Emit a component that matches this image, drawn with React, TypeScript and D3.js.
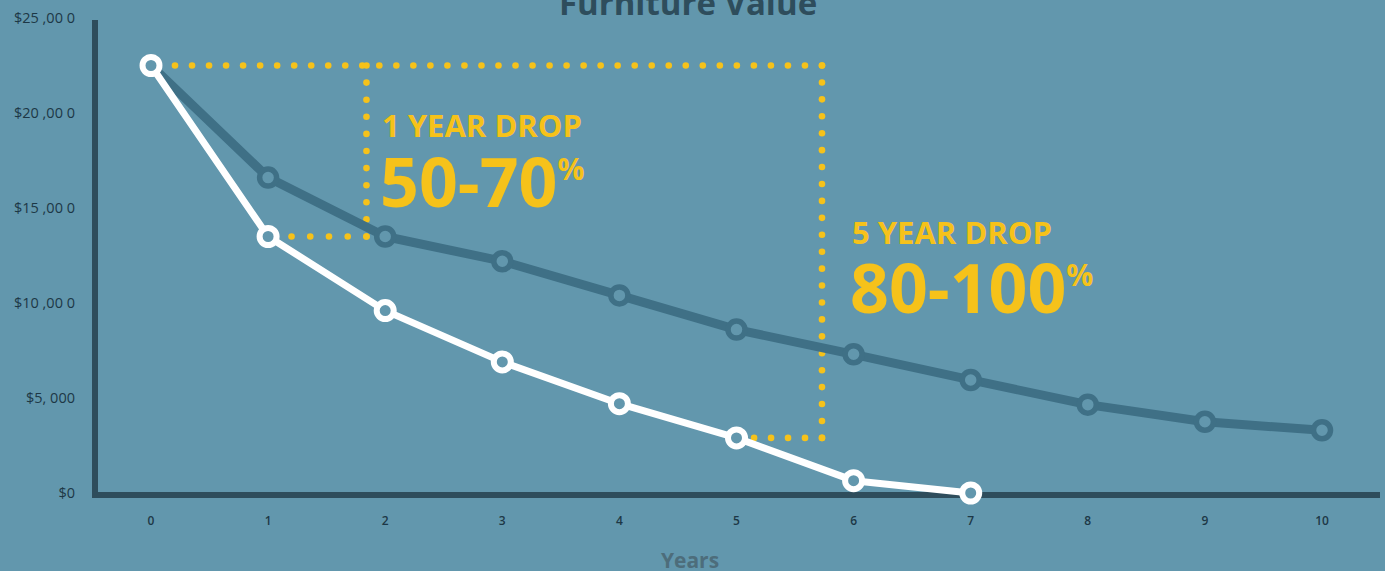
import React from "react";
import * as d3 from "d3";

const years = [0, 1, 2, 3, 4, 5, 6, 7, 8, 9, 10];
const typicalValues = [22500, 16600, 13500, 12200, 10400, 8600, 7300, 5950, 4650, 3750, 3300];
const cheapValues = [22500, 13500, 9600, 6900, 4700, 2900, 650, 0];
const yTicks = [0, 5000, 10000, 15000, 20000, 25000];
const yTickLabels = ["$0", "$5, 000", "$10 ,00 0", "$15 ,00 0", "$20 ,00 0", "$25 ,00 0"];
const oneYearBox = { toYear: 1.84, top: 22500, bottom: 13500, bottomFrom: 1.2 };
const fiveYearBox = { toYear: 5.73, top: 22500, bottom: 2900, bottomFrom: 5.15 };

const W = 1385, H = 571;
const BG = "#6297ad";
const AXIS = "#2e4d5c";
const DARK = "#3f7086";
const YELLOW = "#f6c21a";
const FONT = "'Open Sans', 'Noto Sans', sans-serif";

export default function App() {
  const x = d3.scaleLinear().domain([0, 10]).range([151, 1322]);
  const y = d3.scaleLinear().domain([0, 25000]).range([493, 18]);
  const line = d3.line<number>().x((_, i) => x(i)).y((d) => y(d)).curve(d3.curveLinear);

  const dots = (x1: number, y1: number, x2: number, y2: number, key: string) => {
    const len = Math.hypot(x2 - x1, y2 - y1);
    const n = Math.max(1, Math.round(len / 17.2));
    return d3.range(n + 1).map((i) => (
      <circle key={key + i} cx={x1 + ((x2 - x1) * i) / n} cy={y1 + ((y2 - y1) * i) / n} r={3.3} fill={YELLOW} />
    ));
  };

  return (
    <svg width={W} height={H} style={{ display: "block", position: "absolute", left: 0, top: 0 }}>
      <rect width={W} height={H} fill={BG} />
      <text x={688} y={15} textAnchor="middle" fontFamily={FONT} fontWeight={700} fontSize={33} fill={AXIS}>Furniture Value</text>
      {/* yellow dotted boxes */}
      {dots(x(0) + 24, y(oneYearBox.top), x(fiveYearBox.toYear), y(oneYearBox.top), "t")}
      {dots(x(oneYearBox.toYear), y(oneYearBox.top), x(oneYearBox.toYear), y(oneYearBox.bottom), "v1")}
      {dots(x(oneYearBox.bottomFrom), y(oneYearBox.bottom), x(oneYearBox.toYear), y(oneYearBox.bottom), "b1")}
      {dots(x(fiveYearBox.toYear), y(fiveYearBox.top), x(fiveYearBox.toYear), y(fiveYearBox.bottom), "v2")}
      {dots(x(fiveYearBox.bottomFrom), y(fiveYearBox.bottom), x(fiveYearBox.toYear), y(fiveYearBox.bottom), "b2")}
      {/* axes */}
      <line x1={95} y1={20} x2={95} y2={498} stroke={AXIS} strokeWidth={6} />
      <line x1={92} y1={495} x2={1380} y2={495} stroke={AXIS} strokeWidth={6} />
      {yTicks.map((t, i) => (
        <text key={t} x={75} y={y(t) + 5} textAnchor="end" fontFamily={FONT} fontSize={14.5} fill="#1d3746">{yTickLabels[i]}</text>
      ))}
      {years.map((t) => (
        <text key={t} x={x(t)} y={525} textAnchor="middle" fontFamily={FONT} fontSize={12} fontWeight={600} fill="#1d3746">{t}</text>
      ))}
      <text x={690} y={568} textAnchor="middle" fontFamily={FONT} fontWeight={700} fontSize={21} fill="#4d6d7b">Years</text>
      {/* series */}
      <path d={line(typicalValues) || ""} fill="none" stroke={DARK} strokeWidth={9} strokeLinejoin="round" />
      {typicalValues.map((v, i) => (
        <circle key={"d" + i} cx={x(i)} cy={y(v)} r={8.5} fill={BG} stroke={DARK} strokeWidth={5.5} />
      ))}
      <path d={line(cheapValues) || ""} fill="none" stroke="#ffffff" strokeWidth={7} strokeLinejoin="round" />
      {cheapValues.map((v, i) => (
        <circle key={"w" + i} cx={x(i)} cy={y(v)} r={8.5} fill={BG} stroke="#ffffff" strokeWidth={6} />
      ))}
      {/* annotations */}
      <text x={382} y={137} fontFamily={FONT} fontWeight={700} fontSize={31} fill={YELLOW}>1 YEAR DROP</text>
      <text x={380} y={207} fontFamily={FONT} fontWeight={700} fontSize={68} fill={YELLOW}>
        50-70<tspan fontSize={30} dy={-27}>%</tspan>
      </text>
      <text x={852} y={244} fontFamily={FONT} fontWeight={700} fontSize={31} fill={YELLOW}>5 YEAR DROP</text>
      <text x={850} y={313} fontFamily={FONT} fontWeight={700} fontSize={68} fill={YELLOW}>
        80-100<tspan fontSize={30} dy={-27}>%</tspan>
      </text>
    </svg>
  );
}
